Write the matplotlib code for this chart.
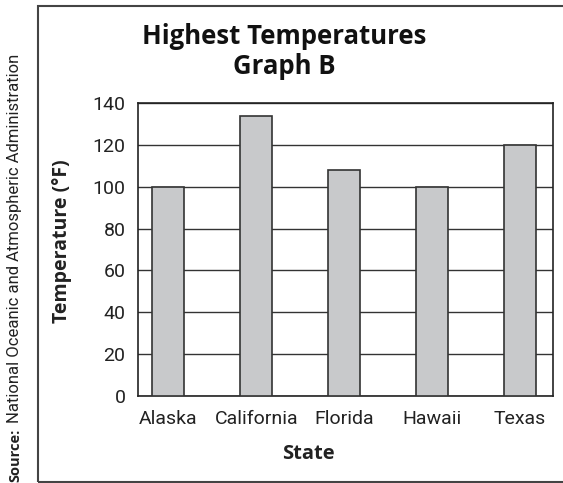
import matplotlib
matplotlib.use('Agg')
import matplotlib.pyplot as plt
from matplotlib.patches import Rectangle

# data
states = ["Alaska", "California", "Florida", "Hawaii", "Texas"]
temps = [100, 134, 108, 100, 120]
yticks = [0, 20, 40, 60, 80, 100, 120, 140]

NARROW = ['Roboto', 'DejaVu Sans']
BOLD = ['Open Sans', 'DejaVu Sans']
W, H = 563, 483

fig = plt.figure(figsize=(W / 100, H / 100), dpi=100)
ax = fig.add_axes([138 / W, 1 - 396 / H, 415 / W, 293 / H])

x = range(len(states))
ax.bar(x, temps, width=0.364, color='#c8c9cb', edgecolor='#333333', lw=1.2, zorder=3)

ax.set_ylim(0, 140)
ax.set_xlim(-0.345, 4.375)
ax.set_yticks(yticks)
ax.set_xticks(list(x))
ax.set_xticklabels(states)
ax.yaxis.grid(True, color='#333333', lw=1.0, zorder=0)
ax.tick_params(length=0, labelsize=14, colors='#222222')
ax.tick_params(axis='y', pad=9)
ax.tick_params(axis='x', pad=10)
for lab in ax.get_xticklabels() + ax.get_yticklabels():
    lab.set_family(NARROW)
for s in ax.spines.values():
    s.set_color('#222222'); s.set_linewidth(1.2)

ax.set_ylabel('Temperature (°F)', family=BOLD, fontweight='bold', fontsize=14,
              color='#222222')
ax.yaxis.set_label_coords(72 / W, 0.5, transform=fig.transFigure)

fig.text(308 / W, 1 - 454 / H, 'State', family=BOLD, fontweight='bold',
         fontsize=14.5, ha='center', va='center', color='#222222')

fig.text(284 / W, 1 - 36 / H, 'Highest Temperatures', family=BOLD, fontweight='bold',
         fontsize=18.5, ha='center', va='center', color='#111111')
fig.text(284 / W, 1 - 67 / H, 'Graph B', family=BOLD, fontweight='bold',
         fontsize=18.5, ha='center', va='center', color='#111111')

# frame around the chart
fig.patches.append(Rectangle((37.5 / W, 1 / H), 1.0, 1 - 5.5 / H - 1 / H,
                             transform=fig.transFigure, fill=False,
                             edgecolor='#444444', lw=1.5))

# rotated source note
fig.text(15 / W, 1 - 482 / H, 'Source:', family=BOLD, fontweight='bold', fontsize=10.5,
         rotation=90, ha='center', va='bottom', color='#222222')
fig.text(15 / W, 1 - 423 / H, 'National Oceanic and Atmospheric Administration',
         family=NARROW, fontsize=12, rotation=90, ha='center', va='bottom',
         color='#222222')

fig.savefig('out.png', dpi=100)
